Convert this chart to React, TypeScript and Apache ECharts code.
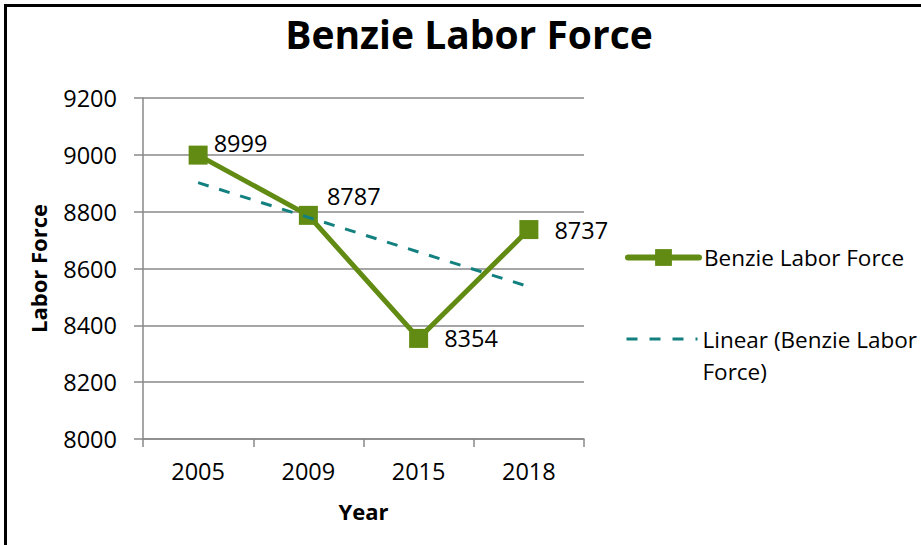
import React, { useEffect, useRef } from "react";
import * as echarts from "echarts";

const categories = ["2005", "2009", "2015", "2018"];
const laborForce = [8999, 8787, 8354, 8737];
// Linear trendline values at each category
const trendValues = [8902, 8780, 8658, 8536];
const yTicks = { min: 8000, max: 9200, interval: 200 };
const seriesName = "Benzie Labor Force";
const trendName = "Linear (Benzie Labor Force)";
const labelOffsets: [number, number][] = [
  [-10, -12],
  [-7, -19],
  [0, 0],
  [0, 0],
];

const FONT = "Open Sans";
const GREEN = "#618B12";
const TEAL = "#12807F";
const GRID = "#898989";
const FS = 23.5;
const LEGEND_FS = 22.5;

export default function App() {
  const ref = useRef<HTMLDivElement>(null);
  useEffect(() => {
    if (!ref.current) return;
    const chart = echarts.init(ref.current, null, { renderer: "svg" });
    chart.setOption({
      animation: false,
      backgroundColor: "#ffffff",
      textStyle: { fontFamily: FONT },
      title: {
        text: "Benzie Labor Force",
        left: 469,
        textAlign: "center",
        top: 14,
        padding: 0,
        textStyle: { fontFamily: FONT, fontWeight: "bold", fontSize: 39, color: "#000" },
      },
      graphic: [
        {
          type: "rect",
          shape: { x: 5.5, y: 5.5, width: 940, height: 570 },
          style: { fill: "none", stroke: "#000", lineWidth: 3 },
          silent: true,
        },
      ],
      grid: { left: 143, right: 337, top: 98, bottom: 106, containLabel: false },
      xAxis: {
        type: "category",
        data: categories,
        boundaryGap: true,
        name: "Year",
        nameLocation: "middle",
        nameGap: 61,
        nameTextStyle: { fontFamily: FONT, fontWeight: "bold", fontSize: 22, color: "#000" },
        axisLine: { show: true, lineStyle: { color: GRID, width: 1.5 } },
        axisTick: { show: true, length: 8, alignWithLabel: false, lineStyle: { color: GRID, width: 1.5 } },
        axisLabel: { fontFamily: FONT, fontSize: FS, color: "#000", margin: 20 },
        splitLine: { show: false },
      },
      yAxis: {
        type: "value",
        min: yTicks.min,
        max: yTicks.max,
        interval: yTicks.interval,
        name: "Labor Force",
        nameLocation: "middle",
        nameGap: 94,
        nameTextStyle: { fontFamily: FONT, fontWeight: "bold", fontSize: 22, color: "#000" },
        axisLine: { show: true, lineStyle: { color: GRID, width: 1.5 } },
        axisTick: { show: true, length: 9, lineStyle: { color: GRID, width: 1.5 } },
        axisLabel: {
          fontFamily: FONT,
          fontSize: FS,
          color: "#000",
          margin: 26,
          formatter: (v: number) => String(v),
        },
        splitLine: { show: true, lineStyle: { color: GRID, width: 1.5 } },
      },
      legend: [
        {
          data: [seriesName],
          orient: "vertical",
          left: 625,
          top: 246,
          padding: 0,
          itemWidth: 71,
          itemHeight: 21,
          itemGap: 0,
          lineStyle: { width: 6, cap: "round" },
          textStyle: { fontFamily: FONT, fontSize: LEGEND_FS, color: "#000" },
        },
        {
          data: [trendName],
          orient: "vertical",
          left: 625,
          top: 291,
          padding: 0,
          itemWidth: 71,
          itemHeight: 21,
          itemGap: 0,
          itemStyle: { opacity: 0 },
          lineStyle: { width: 3, type: [11, 12] },
          formatter: () => " \nLinear (Benzie Labor\nForce)",
          textStyle: {
            fontFamily: FONT,
            fontSize: LEGEND_FS,
            color: "#000",
            lineHeight: 32,
          },
        },
      ],
      series: [
        {
          name: seriesName,
          type: "line",
          data: laborForce.map((v, i) => ({
            value: v,
            label: { offset: labelOffsets[i] },
          })),
          symbol: "rect",
          symbolSize: 19,
          itemStyle: { color: GREEN },
          lineStyle: { color: GREEN, width: 5 },
          label: {
            show: true,
            position: "right",
            distance: 16,
            fontFamily: FONT,
            fontSize: FS,
            color: "#000",
          },
          z: 2,
        },
        {
          name: trendName,
          type: "line",
          data: trendValues,
          symbol: "none",
          showSymbol: false,
          itemStyle: { color: TEAL },
          lineStyle: { color: TEAL, width: 3, type: [11, 11] },
          z: 3,
        },
      ],
    });
    return () => chart.dispose();
  }, []);
  return (
    <div
      ref={ref}
      style={{ position: "absolute", left: 0, top: 0, width: 921, height: 545 }}
    />
  );
}
